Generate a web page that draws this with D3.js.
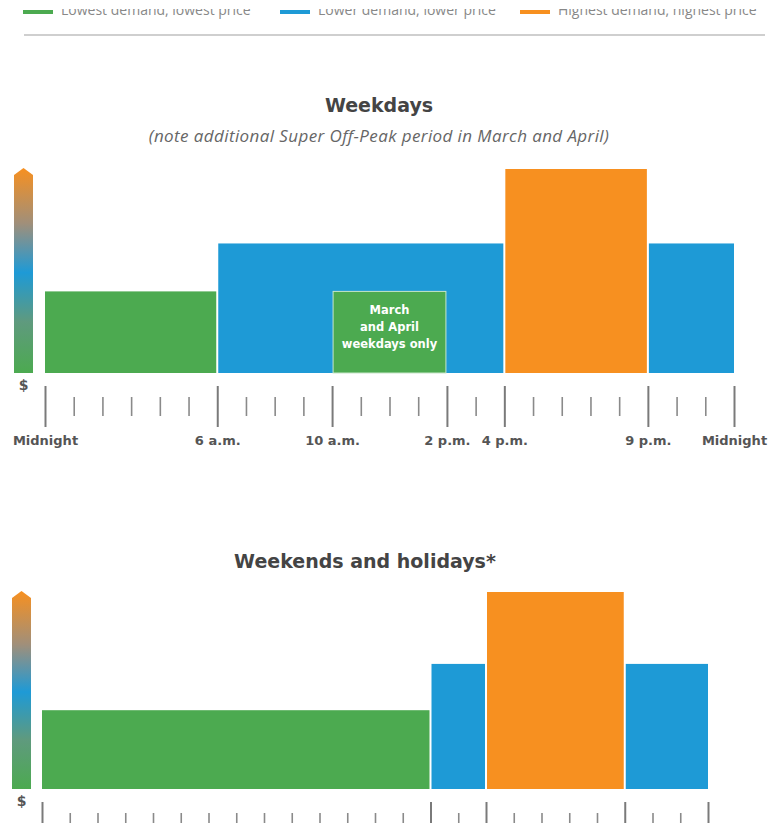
<!DOCTYPE html>
<html>
<head>
<meta charset="utf-8">
<script src="https://cdn.jsdelivr.net/npm/d3@7"></script>
<style>
  html, body { margin: 0; padding: 0; background: #fff; }
  svg { display: block; }
</style>
</head>
<body>
<svg id="chart" width="776" height="823"></svg>
<script>
// ---------- DATA ----------
const tierNames = ["Lowest demand, lowest price", "Lower demand, lower price", "Highest demand, highest price"];
const tierPrice = [0.40, 0.635, 1.0];           // relative price level (top of $ scale = 1)
const tierColors = ["#4caa50", "#1e9ad6", "#f79020"];

// periods: [startHour, endHour, tierIndex]
const weekdayPeriods = [[0, 6, 0], [6, 16, 1], [16, 21, 2], [21, 24, 1]];
const weekdayOverlay = [[10, 14, 0]];           // March & April super off-peak
const weekdayOverlayText = ["March", "and April", "weekdays only"];
const weekdayMajorTicks = [0, 6, 10, 14, 16, 21, 24];
const weekdayTickLabels = ["Midnight", "6 a.m.", "10 a.m.", "2 p.m.", "4 p.m.", "9 p.m.", "Midnight"];

const weekendPeriods = [[0, 14, 0], [14, 16, 1], [16, 21, 2], [21, 24, 1]];
const weekendMajorTicks = [0, 14, 16, 21, 24];
// weekend tick labels fall below the visible area in the reference, so none are drawn
const weekendTickLabels = null;

const allHours = d3.range(0, 25);

// ---------- DRAW ----------
const svg = d3.select("#chart");
const defs = svg.append("defs");

const grad = defs.append("linearGradient").attr("id", "priceGrad")
  .attr("x1", 0).attr("y1", 1).attr("x2", 0).attr("y2", 0);
[[0, "#4caa50"], [0.25, "#5f9a7e"], [0.49, "#1e9ad6"], [0.73, "#a08f7a"], [1, "#f79020"]]
  .forEach(([o, c]) => grad.append("stop").attr("offset", o).attr("stop-color", c));

// Legend (upper part hidden in the reference)
defs.append("clipPath").attr("id", "legendClip")
  .append("rect").attr("x", 0).attr("y", 9).attr("width", 776).attr("height", 25);
const legend = svg.append("g");
const legendX = [23, 280, 520];
tierNames.forEach((n, i) => {
  legend.append("rect").attr("x", legendX[i]).attr("y", 10).attr("width", 30).attr("height", 4)
    .attr("fill", tierColors[i]);
  legend.append("text").attr("x", legendX[i] + 38).attr("y", 15)
    .attr("clip-path", "url(#legendClip)")
    .attr("font-family", "Open Sans").attr("font-size", 14).attr("fill", "#888")
    .text(n);
});
svg.append("line").attr("x1", 24).attr("x2", 765).attr("y1", 35).attr("y2", 35)
  .attr("stroke", "#cfcfcf").attr("stroke-width", 2);

function drawPanel(cfg) {
  const g = svg.append("g");
  const x = d3.scaleLinear().domain([0, 24]).range([cfg.x0, cfg.x1]);
  const y = d3.scaleLinear().domain([0, 1]).range([cfg.base, cfg.top]);

  // title
  g.append("text").attr("x", cfg.titleX).attr("y", cfg.titleY).attr("text-anchor", "middle")
    .attr("font-family", "DejaVu Sans").attr("font-weight", "bold").attr("font-size", 19)
    .attr("fill", "#444").text(cfg.title);
  if (cfg.subtitle) {
    g.append("text").attr("x", cfg.titleX).attr("y", cfg.titleY + 30).attr("text-anchor", "middle")
      .attr("font-family", "Open Sans").attr("font-style", "italic").attr("font-size", 17)
      .attr("letter-spacing", 0.4)
      .attr("fill", "#666").text(cfg.subtitle);
  }

  // gradient price indicator
  const gx0 = cfg.gx0, gx1 = cfg.gx1, tip = y(1) - 1;
  g.append("path")
    .attr("d", `M${gx0},${cfg.base} L${gx0},${tip + 7} L${(gx0 + gx1) / 2},${tip} L${gx1},${tip + 7} L${gx1},${cfg.base} Z`)
    .attr("fill", "url(#priceGrad)");
  g.append("text").attr("x", (gx0 + gx1) / 2).attr("y", cfg.base + 17).attr("text-anchor", "middle")
    .attr("font-family", "DejaVu Sans").attr("font-weight", "bold").attr("font-size", 14)
    .attr("fill", "#555").text("$");

  // bars
  const inset = (p) => ({
    l: x(p[0]) + (p[0] > 0 ? 1 : 0),
    r: x(p[1]) - (p[1] < 24 ? 1 : 0)
  });
  g.selectAll("rect.bar").data(cfg.periods).join("rect").attr("class", "bar")
    .attr("x", d => inset(d).l).attr("width", d => inset(d).r - inset(d).l)
    .attr("y", d => y(tierPrice[d[2]])).attr("height", d => cfg.base - y(tierPrice[d[2]]))
    .attr("fill", d => tierColors[d[2]]);

  if (cfg.overlay) {
    g.selectAll("rect.ov").data(cfg.overlay).join("rect").attr("class", "ov")
      .attr("x", d => x(d[0]) + 1).attr("width", d => x(d[1]) - x(d[0]) - 2)
      .attr("y", d => y(tierPrice[d[2]])).attr("height", d => cfg.base - y(tierPrice[d[2]]))
      .attr("fill", d => tierColors[d[2]]).attr("stroke", "#c8e6c9").attr("stroke-width", 1);
    const d0 = cfg.overlay[0];
    const t = g.append("text").attr("text-anchor", "middle")
      .attr("font-family", "DejaVu Sans").attr("font-weight", "bold").attr("font-size", 11.5)
      .attr("fill", "#fff");
    cfg.overlayText.forEach((s, i) => {
      t.append("tspan").attr("x", (x(d0[0]) + x(d0[1])) / 2)
        .attr("y", y(tierPrice[d0[2]]) + 23 + i * 17).text(s);
    });
  }

  // minor ticks
  const minor = allHours.filter(h => !cfg.major.includes(h));
  const minorAxis = d3.axisBottom(x).tickValues(minor).tickSize(19).tickFormat("");
  const mg = g.append("g").attr("transform", `translate(0,${cfg.base + 24})`).call(minorAxis);
  mg.select(".domain").remove();
  mg.selectAll(".tick line").attr("stroke", "#8a8a8a").attr("stroke-width", 1.6);

  // major ticks + labels
  const majorAxis = d3.axisBottom(x).tickValues(cfg.major).tickSize(41).tickPadding(9)
    .tickFormat((d, i) => cfg.labels ? cfg.labels[i] : "");
  const jg = g.append("g").attr("transform", `translate(0,${cfg.base + 13})`).call(majorAxis);
  jg.select(".domain").remove();
  jg.selectAll(".tick line").attr("stroke", "#7a7a7a").attr("stroke-width", 2);
  if (cfg.labels) {
    jg.selectAll(".tick text").attr("font-family", "DejaVu Sans").attr("font-weight", "bold")
      .attr("font-size", 13).attr("fill", "#555");
  } else {
    jg.selectAll(".tick text").remove();
  }
}

drawPanel({
  title: "Weekdays",
  subtitle: "(note additional Super Off-Peak period in March and April)",
  titleX: 379, titleY: 112,
  x0: 45, x1: 734, base: 373, top: 169,
  gx0: 14, gx1: 33,
  periods: weekdayPeriods, overlay: weekdayOverlay, overlayText: weekdayOverlayText,
  major: weekdayMajorTicks, labels: weekdayTickLabels
});

drawPanel({
  title: "Weekends and holidays*",
  titleX: 365, titleY: 568,
  x0: 42, x1: 708, base: 789, top: 592,
  gx0: 12, gx1: 31,
  periods: weekendPeriods,
  major: weekendMajorTicks, labels: weekendTickLabels
});
</script>
</body>
</html>
